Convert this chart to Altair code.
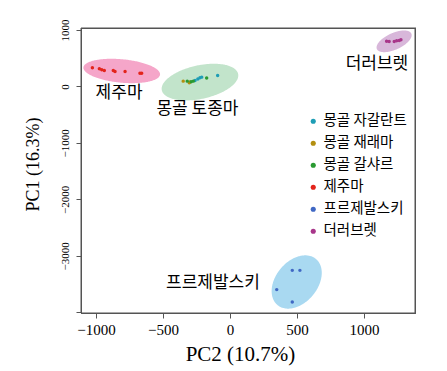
import altair as alt
import numpy as np
import pandas as pd

# ---- data ----
groups = ["몽골 자갈란트", "몽골 재래마", "몽골 갈샤르", "제주마", "프르제발스키", "더러브렛"]
colors = ["#1E9DB5", "#B38F10", "#2A9A32", "#E3241B", "#4068C4", "#A8368A"]

pc2_jagal = [-261, -240, -224, -211, -92]
pc1_jagal = [106, 130, 154, 165, 195]
pc2_jaerae = [-349, -304, -299]
pc1_jaerae = [94, 65, 80]
pc2_galshar = [-319, -290, -274, -174]
pc1_galshar = [94, 85, 94, 150]
pc2_jeju = [-1027, -975, -957, -938, -871, -858, -783, -672, -659]
pc1_jeju = [331, 313, 295, 283, 283, 265, 265, 235, 235]
pc2_przew = [465, 522, 349, 465]
pc1_przew = [-3257, -3257, -3598, -3818]
pc2_tb = [1169, 1188, 1226, 1244, 1263, 1276]
pc1_tb = [802, 796, 796, 808, 814, 827]

# cluster ellipses: centre, half-extent in x and y, tilt phase
ell_names = ["제주마", "몽골 토종마", "프르제발스키", "더러브렛"]
ell_cx = [-808, -224, 498, 1225]
ell_cy = [274, 77, -3463, 799]
ell_rx = [286, 286, 187, 131]
ell_ry = [216, 325, 472, 192]
ell_phi = [-0.27, 0.37, 0.35, 0.6]
ell_fill = ["#F5A6C9", "#C2E4CB", "#A9D9F1", "#D8B7DA"]

# cluster labels
lab_text = ["제주마", "몽골 토종마", "더러브렛", "프르제발스키"]
lab_x = [-828, -243, 1097, -127]
lab_y = [-119, -407, 402, -3487]

x_ticks = [-1000, -500, 0, 500, 1000]
y_ticks = [1000, 0, -1000, -2000, -3000, -4000]

XD = [-1112, 1381]
YD = [-4012, 1035]

# ---- tables ----
pts = []
for g, xs, ys in [
    (groups[0], pc2_jagal, pc1_jagal),
    (groups[1], pc2_jaerae, pc1_jaerae),
    (groups[2], pc2_galshar, pc1_galshar),
    (groups[3], pc2_jeju, pc1_jeju),
    (groups[4], pc2_przew, pc1_przew),
    (groups[5], pc2_tb, pc1_tb),
]:
    for a, b in zip(xs, ys):
        pts.append({"group": g, "pc2": a, "pc1": b})
pts = pd.DataFrame(pts)

rows = []
a = np.linspace(0, np.pi, 121)
for n, cx, cy, rx, ry, ph, f in zip(ell_names, ell_cx, ell_cy, ell_rx, ell_ry, ell_phi, ell_fill):
    for ai in a:
        rows.append({
            "name": n, "fill": f,
            "x": cx + rx * np.cos(ai),
            "y": cy + ry * np.sin(ai + ph),
            "y2": cy + ry * np.sin(ph - ai),
        })
ell = pd.DataFrame(rows)

labs = pd.DataFrame({"t": lab_text, "x": lab_x, "y": lab_y})

xscale = alt.Scale(domain=XD, nice=False, zero=False)
yscale = alt.Scale(domain=YD, nice=False, zero=False)

xaxis = alt.Axis(values=x_ticks, format="d", title="PC2 (10.7%)", grid=False,
                 domain=True, domainColor="#555", domainWidth=1,
                 tickSize=5, tickColor="#555", labelFont="Liberation Serif",
                 labelFontSize=15, labelColor="black", labelPadding=4,
                 titleFont="Liberation Serif", titleFontSize=21,
                 titleFontWeight="normal", titleColor="black", titlePadding=6,
                 titleX=159)
yaxis = alt.Axis(values=y_ticks, format="d", title="PC1 (16.3%)", grid=False,
                 domain=True, domainColor="#555", domainWidth=1,
                 tickSize=5, tickColor="#555", labelFont="Liberation Serif",
                 labelFontSize=11, labelColor="black", labelAngle=-90,
                 labelAlign="center", labelBaseline="bottom", labelPadding=6,
                 labelExpr="datum.value == -4000 ? '' : datum.label",
                 titleFont="Liberation Serif", titleFontSize=18,
                 titleFontWeight="normal", titleColor="black", titlePadding=17,
                 titleY=136)

ellipses = alt.Chart(ell).mark_area(opacity=1).encode(
    x=alt.X("x:Q", scale=xscale, axis=xaxis),
    y=alt.Y("y:Q", scale=yscale, axis=yaxis),
    y2="y2:Q",
    color=alt.Color("fill:N", scale=None),
    detail="name:N",
)

points = alt.Chart(pts).mark_circle(size=12, opacity=1).encode(
    x=alt.X("pc2:Q", scale=xscale),
    y=alt.Y("pc1:Q", scale=yscale),
    color=alt.Color(
        "group:N",
        scale=alt.Scale(domain=groups, range=colors),
        sort=groups,
        legend=alt.Legend(
            title=None, orient="none", legendX=225, legendY=86,
            labelFont="Noto Sans CJK KR", labelFontSize=14.5, labelColor="black",
            symbolType="circle", symbolSize=26, symbolStrokeWidth=0,
            rowPadding=7, labelOffset=3, padding=0,
        ),
    ),
)

texts = alt.Chart(labs).mark_text(
    font="Noto Sans CJK KR", fontSize=17, color="black"
).encode(
    x=alt.X("x:Q", scale=xscale),
    y=alt.Y("y:Q", scale=yscale),
    text="t:N",
)

one = pd.DataFrame({"k": [0]})
edge_style = dict(color="#555", opacity=1)
top_bar = alt.Chart(one).mark_rect(**edge_style).encode(
    x=alt.value(0), x2=alt.value(335), y=alt.value(-0.5), y2=alt.value(0.8))
bottom_bar = alt.Chart(one).mark_rect(**edge_style).encode(
    x=alt.value(0), x2=alt.value(335), y=alt.value(284.5), y2=alt.value(285.8))
left_bar = alt.Chart(one).mark_rect(**edge_style).encode(
    x=alt.value(-0.5), x2=alt.value(0.8), y=alt.value(0), y2=alt.value(285))
right_bar = alt.Chart(one).mark_rect(**edge_style).encode(
    x=alt.value(333.5), x2=alt.value(334.8), y=alt.value(0), y2=alt.value(285))

chart = alt.layer(ellipses, points, texts, top_bar, bottom_bar, left_bar, right_bar).properties(
    width=334, height=285,
    padding={"left": 73, "top": 20, "right": 24, "bottom": 56},
    autosize=alt.AutoSizeParams(type="none"),
    background="white",
).configure_view(
    stroke="#555", strokeWidth=1
)

chart.save("out.html", embed_options={"renderer": "svg", "actions": False})
